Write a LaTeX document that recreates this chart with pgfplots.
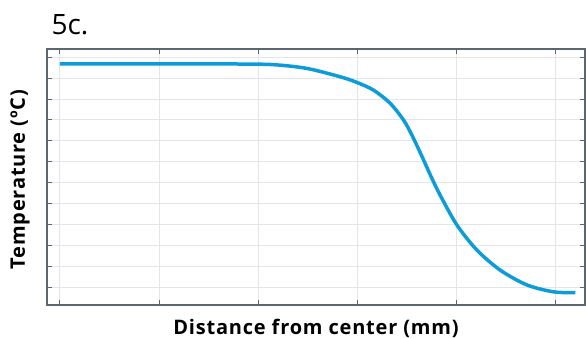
\documentclass[border=0pt]{standalone}
\usepackage{pgfplots}
\pgfplotsset{compat=1.18}
\usepackage{fontspec}
\setmainfont{Open Sans}
\newfontfamily\labfont[LetterSpace=4]{Open Sans}
\definecolor{curve}{HTML}{0E9CD8}
\definecolor{axc}{HTML}{5B6770}
\definecolor{gridc}{HTML}{E2E5E9}
\begin{document}
\begin{tikzpicture}
\path[use as bounding box] (-47pt,-34pt) rectangle (539pt,305pt);
\begin{axis}[
  at={(0pt,0pt)}, anchor=south west,
  scale only axis, width=538pt, height=256pt,
  xmin=-0.131, xmax=5.30, ymin=-0.86, ymax=11.4,
  xtick={0,1,2,3,4,5}, ytick={0,1,...,11},
  xticklabels={}, yticklabels={},
  tick align=inside, major tick length=5pt,
  tick style={axc, line width=1pt},
  axis line style={axc, line width=1.3pt},
  grid=major, major grid style={gridc, line width=1pt},
  xlabel={Distance from center (mm)},
  ylabel={Temperature (ºC)},
  every axis x label/.style={at={(axis description cs:0.5,-0.1133)}, anchor=base, font=\labfont\bfseries\fontsize{20}{22}\selectfont},
  every axis y label/.style={at={(axis description cs:-0.0502,0.49)}, anchor=center, rotate=90, font=\labfont\bfseries\fontsize{20}{22}\selectfont},
]
\addplot[curve, line width=3.5pt, smooth] coordinates {
(0,10.69) (1.0,10.69) (1.5,10.69) (1.818,10.68) (2.155,10.65) (2.492,10.47)
(2.828,10.07) (2.997,9.80) (3.165,9.43) (3.333,8.80) (3.468,8.00) (3.55,7.3)
(3.65,6.3) (3.75,5.25) (3.838,4.4) (4.007,2.97) (4.209,1.77) (4.444,0.81) (4.714,0.10)
(4.983,-0.23) (5.202,-0.27)
};
\end{axis}
\node[anchor=base west, font=\fontsize{28}{34}\selectfont] at (1pt,270pt) {5c.};
\end{tikzpicture}
\end{document}
